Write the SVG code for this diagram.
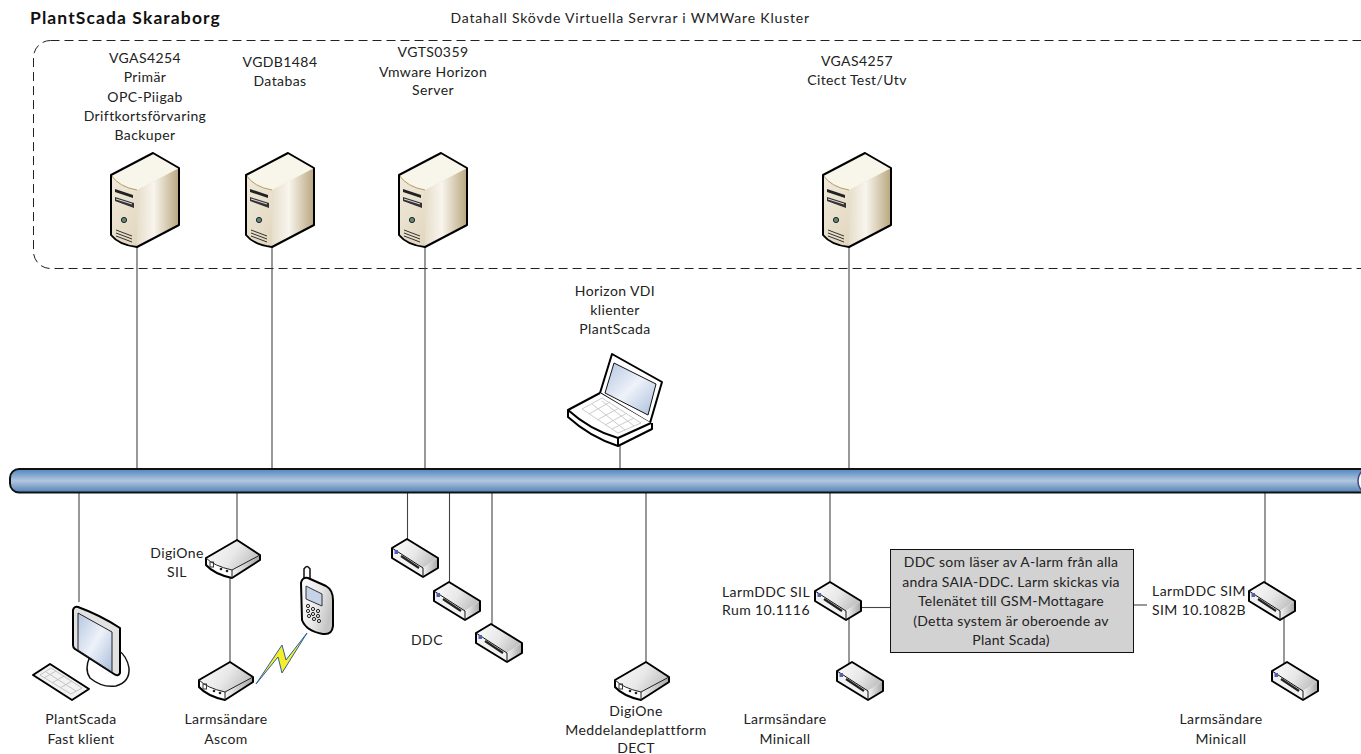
<svg xmlns="http://www.w3.org/2000/svg" width="1361" height="754" viewBox="0 0 1361 754">
<style>
text{font-family:Lato,"Liberation Sans",sans-serif;font-size:14px;letter-spacing:.4px;fill:#222;text-anchor:middle}
.t{font-weight:700;font-size:17.500px;letter-spacing:1.100px;text-anchor:start;fill:#111}
.nt{letter-spacing:.25px}
.c line{stroke:#444;stroke-width:1.100;fill:none}
.o{stroke:#000;stroke-width:2;stroke-linejoin:round}
</style>
<defs>
<linearGradient id="busg" x1="0" y1="0" x2="0" y2="1"><stop offset="0" stop-color="#4f86bd"/><stop offset=".5" stop-color="#b3c6df"/><stop offset="1" stop-color="#4f82b8"/></linearGradient>
<linearGradient id="sf" x1="0" y1="0" x2="1" y2="1"><stop offset="0" stop-color="#f4efe2"/><stop offset="1" stop-color="#d9cbae"/></linearGradient>
<linearGradient id="ss" x1="0" y1="0" x2="1" y2="0"><stop offset="0" stop-color="#e6decb"/><stop offset=".4" stop-color="#f8f5ee"/><stop offset="1" stop-color="#b9a67f"/></linearGradient>
<linearGradient id="dg" x1="0" y1="0" x2="1" y2=".4"><stop offset="0" stop-color="#fdfdfd"/><stop offset=".6" stop-color="#e8e8e8"/><stop offset="1" stop-color="#c4c4c4"/></linearGradient>
<linearGradient id="ds" x1="0" y1="0" x2="1" y2="0"><stop offset="0" stop-color="#f4f4f4"/><stop offset="1" stop-color="#a6a6a6"/></linearGradient>
<linearGradient id="scr" x1="0" y1="0" x2="1" y2="1"><stop offset="0" stop-color="#b4c6e2"/><stop offset=".5" stop-color="#eef2f9"/><stop offset="1" stop-color="#a9bddc"/></linearGradient>
<g id="server">
<path d="M0 22L42 0L68 15V72L26 94Q8 92 0 82Z" fill="url(#sf)"/>
<path d="M26 37L68 15V72L26 94Z" fill="url(#ss)"/>
<path d="M0 22L42 0L68 15L26 37Q8 34 0 22Z" fill="#f8f5ea"/>
<path d="M0 22Q8 34 26 37" fill="none" stroke="#b49a60" stroke-width="1"/>
<path d="M0 22L42 0L68 15V72L26 94Q8 92 0 82Z" fill="none" class="o"/>
<path d="M4 36L22 42V45L4 39Z" fill="#222"/><path d="M4 44L23 50V55L4 48Z" fill="#333"/><path d="M5 46L21 51" stroke="#ddd" stroke-width="1"/>
<circle cx="13" cy="67" r="2.600" fill="#5d8a80" stroke="#222"/>
<path d="M5 77L21 83M5 80L21 86M5 83L21 89" stroke="#333" stroke-width="1"/>
</g>
<g id="hub">
<path d="M0 18L31 0L54 15V20L26 38Q8 34 0 25Z" fill="#ddd"/>
<path d="M0 18L31 0L54 15L26 30Q8 26 0 18Z" fill="url(#dg)"/>
<path d="M26 30L54 15V20L26 38Z" fill="url(#ds)"/>
<path d="M0 18Q8 26 26 30V38Q8 34 0 25Z" fill="#fff"/>
<path d="M0 18L31 0L54 15V20L26 38Q8 34 0 25Z" fill="none" class="o"/>
<path d="M0 18Q8 26 26 30L54 15M26 30V38" fill="none" stroke="#222" stroke-width="1"/>
<rect x="4" y="22" width="3.500" height="5" fill="none" stroke="#333"/><circle cx="15" cy="29" r="1.300" fill="#222"/><circle cx="21" cy="31" r="1.300" fill="#222"/>
</g>
<g id="ddc">
<path d="M0 9L15 0L46 19L31 29Z" fill="url(#dg)"/>
<path d="M31 29L46 19V29L31 38Z" fill="url(#ds)"/>
<path d="M0 9L31 29V38L0 19Z" fill="#f2f2f2"/>
<path d="M0 9L15 0L46 19V29L31 38L0 19Z" fill="none" class="o"/>
<path d="M0 9L31 29V38" fill="none" stroke="#111" stroke-width="1"/>
<path d="M9 17L27 29" stroke="#222" stroke-width="2.200"/>
<rect x="2.500" y="11" width="3.500" height="4" fill="#5560b0"/>
</g>
</defs>
<g id="title"><text class="t" x="30" y="24">PlantScada Skaraborg</text><text x="630" y="23" textLength="359">Datahall Skövde Virtuella Servrar i WMWare Kluster</text></g>
<rect id="cluster" x="33.500" y="40.500" width="1345" height="228" rx="17" fill="none" stroke="#222" stroke-width="1" stroke-dasharray="9 5"/>
<g id="connectors" class="c">
<line x1="137" y1="245" x2="137" y2="468"/><line x1="272" y1="245" x2="272" y2="468"/><line x1="425" y1="245" x2="425" y2="468"/><line x1="849" y1="245" x2="849" y2="468"/>
<line x1="620" y1="446" x2="620" y2="468"/>
<line x1="79" y1="493" x2="79" y2="602"/><line x1="237" y1="493" x2="237" y2="540"/><line x1="230" y1="578" x2="230" y2="662"/>
<line x1="407.500" y1="493" x2="407.500" y2="540"/><line x1="449.500" y1="493" x2="449.500" y2="582"/><line x1="492" y1="493" x2="492" y2="624"/>
<line x1="646" y1="493" x2="646" y2="662"/><line x1="830" y1="493" x2="830" y2="583"/>
<line x1="849" y1="615" x2="849" y2="664"/><line x1="860" y1="607.500" x2="890" y2="607.500"/><line x1="1134" y1="605" x2="1147" y2="605"/>
<line x1="1265" y1="493" x2="1265" y2="583"/><line x1="1284" y1="615" x2="1284" y2="663"/>
</g>
<g id="bus"><rect x="10" y="469" width="1390" height="23.500" rx="9" fill="url(#busg)" stroke="#111" stroke-width="2"/><ellipse cx="1365" cy="481" rx="7" ry="10.500" fill="#fff" stroke="#3a4a80" stroke-width="1.500"/></g>
<g id="vgas4254"><use href="#server" x="111" y="153"/><text x="145" y="63">VGAS4254</text><text x="145" y="82">Primär</text><text x="145" y="102">OPC-Piigab</text><text x="145" y="121">Driftkortsförvaring</text><text x="145" y="140">Backuper</text></g>
<g id="vgdb1484"><use href="#server" x="246" y="153"/><text x="280" y="67">VGDB1484</text><text x="280" y="86">Databas</text></g>
<g id="vgts0359"><use href="#server" x="399" y="153"/><text x="433" y="57">VGTS0359</text><text x="433" y="77">Vmware Horizon</text><text x="433" y="95">Server</text></g>
<g id="vgas4257"><use href="#server" x="823" y="153"/><text x="857" y="66">VGAS4257</text><text x="857" y="85">Citect Test/Utv</text></g>
<g id="laptop">
<path d="M568 410L600 393L612 354L662 382L650 422L652 429L618 446Q590 436 569 418Z" fill="#fff"/>
<path d="M612 354L662 382L650 423L600 393Z" fill="#fff" class="o"/>
<path d="M614 363L656 384L648 415L605 393Z" fill="url(#scr)" stroke="#111" stroke-width="1"/>
<path d="M600 393L568 410Q590 430 618 438L651 423" fill="#fff" class="o"/>
<path d="M568 410V417Q590 437 618 446L652 429V423M618 438V446" fill="none" class="o"/>
<path d="M582 409L602 398L641 423L618 433ZM589 414L610 402M597 420L619 408M605 425L627 413M612 429L634 418M592 404L625 430M602 401L634 426" fill="none" stroke="#ccc" stroke-width="1"/>
<text x="615" y="296">Horizon VDI</text><text x="615" y="315">klienter</text><text x="615" y="334">PlantScada</text>
</g>
<g id="fast-klient">
<path d="M90 656Q84 670 90 678Q102 688 116 686Q130 682 129 668Q127 656 118 650Z" fill="#fff" stroke="#111" stroke-width="1.500"/>
<path d="M73 610Q74 606 78 607Q100 615 120 628V673Q118 677 114 674L75 649Q73 648 73 645Z" fill="#e2e2e2" class="o"/>
<path d="M78 613L112 632V672L78 650Z" fill="url(#scr)" stroke="#222"/>
<path d="M33 675L50 664L89 689L72 700Z" fill="#f2f2f2" class="o"/>
<path d="M40 675L51 668L82 688L71 694ZM46 672L76 691M44 678L56 671M52 683L64 676M60 688L72 681" fill="none" stroke="#c4c4c4" stroke-width="1"/>
<text x="81" y="724">PlantScada</text><text x="81" y="744">Fast klient</text>
</g>
<g id="digione-sil"><use href="#hub" x="206" y="540"/><text x="177" y="558">DigiOne</text><text x="177" y="577">SIL</text></g>
<g id="ascom"><use href="#hub" x="199" y="662"/><text x="226" y="724">Larmsändare</text><text x="226" y="744">Ascom</text></g>
<g id="phone">
<path d="M304 580V569Q307 564 310 569V583Z" fill="#fff" stroke="#111" stroke-width="1.500"/>
<path d="M301 583Q302 577 308 578L326 586Q333 590 333 600V626Q332 635 323 634Q306 631 302 620Z" fill="url(#dg)" class="o"/>
<path d="M306 586L322 594V606L306 599Z" fill="#c5d2e8" stroke="#333"/>
<g fill="none" stroke="#222"><circle cx="308" cy="606" r="1.600"/><circle cx="313" cy="609" r="1.600"/><circle cx="318" cy="611" r="1.600"/><circle cx="308" cy="611" r="1.600"/><circle cx="313" cy="614" r="1.600"/><circle cx="318" cy="616" r="1.600"/><circle cx="309" cy="616" r="1.600"/><circle cx="314" cy="619" r="1.600"/><circle cx="319" cy="621" r="1.600"/></g>
</g>
<path id="bolt" d="M256 684L282 645L286 660L307 633L282 673L278 657Z" fill="#f7ee2a" stroke="#2f5f9e" stroke-width="1"/>
<g id="ddc1"><use href="#ddc" x="392" y="539"/></g>
<g id="ddc2"><use href="#ddc" x="434" y="582"/></g>
<g id="ddc3"><use href="#ddc" x="476" y="624"/><text x="427" y="645">DDC</text></g>
<g id="digione-dect"><use href="#hub" x="615" y="662"/><text x="636" y="716">DigiOne</text><text x="636" y="735" letter-spacing=".5">Meddelandeplattform</text><text x="636" y="753">DECT</text></g>
<g id="larmddc-sil"><use href="#ddc" x="815" y="582"/><text x="766" y="597">LarmDDC SIL</text><text x="766" y="615">Rum 10.1116</text></g>
<g id="larm-min1"><use href="#ddc" x="837" y="662"/><text x="785" y="724">Larmsändare</text><text x="785" y="744">Minicall</text></g>
<g id="note"><rect x="890.500" y="549.500" width="243" height="103" fill="#d2d2d2" stroke="#111"/><text class="nt" x="1011" y="567">DDC som läser av A-larm från alla</text><text class="nt" x="1011" y="587">andra SAIA-DDC. Larm skickas via</text><text class="nt" x="1011" y="606">Telenätet till GSM-Mottagare</text><text class="nt" x="1011" y="626">(Detta system är oberoende av</text><text class="nt" x="1011" y="645">Plant Scada)</text></g>
<g id="larmddc-sim"><use href="#ddc" x="1249" y="582"/><text x="1199" y="596">LarmDDC SIM</text><text x="1199" y="615">SIM 10.1082B</text></g>
<g id="larm-min2"><use href="#ddc" x="1272" y="662"/><text x="1221" y="724">Larmsändare</text><text x="1221" y="744">Minicall</text></g>
</svg>
